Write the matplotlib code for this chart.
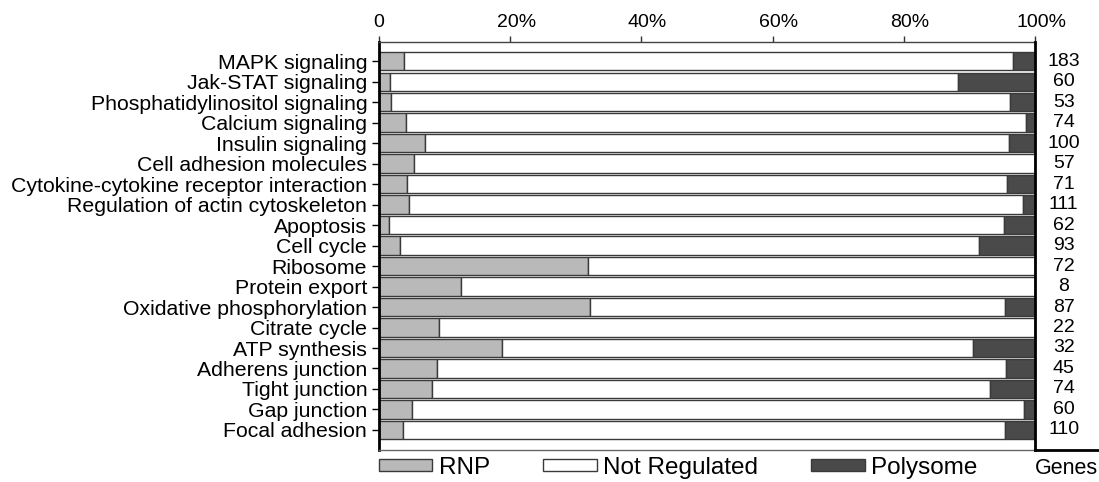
import matplotlib
matplotlib.use("Agg")
import matplotlib.pyplot as plt
import matplotlib.transforms as mtransforms
from matplotlib.patches import Patch
import numpy as np

plt.rcParams['font.family'] = ['Liberation Sans', 'DejaVu Sans']

# pathways, top to bottom
pathways = [
    "MAPK signaling", "Jak-STAT signaling", "Phosphatidylinositol signaling",
    "Calcium signaling", "Insulin signaling", "Cell adhesion molecules",
    "Cytokine-cytokine receptor interaction", "Regulation of actin cytoskeleton",
    "Apoptosis", "Cell cycle", "Ribosome", "Protein export",
    "Oxidative phosphorylation", "Citrate cycle", "ATP synthesis",
    "Adherens junction", "Tight junction", "Gap junction", "Focal adhesion",
]
genes = [183, 60, 53, 74, 100, 57, 71, 111, 62, 93, 72, 8, 87, 22, 32, 45, 74, 60, 110]

# percent of genes per class
rnp = [3.8, 1.7, 1.9, 4.1, 7.0, 5.3, 4.2, 4.5, 1.6, 3.2, 31.9, 12.5,
       32.2, 9.1, 18.8, 8.9, 8.1, 5.0, 3.6]
polysome = [3.3, 11.7, 3.8, 1.4, 4.0, 0.0, 4.2, 1.8, 4.8, 8.6, 0.0, 0.0,
            4.6, 0.0, 9.4, 4.4, 6.8, 1.7, 4.5]
not_regulated = [100 - r - p for r, p in zip(rnp, polysome)]

xticks = [0, 20, 40, 60, 80, 100]
xticklabels = ["0", "20%", "40%", "60%", "80%", "100%"]

c_rnp = "#b9b9b9"
c_not = "#ffffff"
c_poly = "#4a4a4a"
edge = "#3a3a3a"

W, H = 1099, 482
fig = plt.figure(figsize=(W / 100, H / 100), dpi=100)

left, right, top, bottom = 379, 1035, 42, 450
ax = fig.add_axes([left / W, 1 - bottom / H, (right - left) / W, (bottom - top) / H])

y = np.arange(len(pathways))
h = 0.9
ax.barh(y, rnp, height=h, color=c_rnp, edgecolor=edge, linewidth=1)
ax.barh(y, not_regulated, left=rnp, height=h, color=c_not, edgecolor=edge, linewidth=1)
ax.barh(y, polysome, left=np.array(rnp) + np.array(not_regulated), height=h,
        color=c_poly, edgecolor=edge, linewidth=1)

ax.set_xlim(0, 100)
ax.set_ylim(18.98, -0.94)
ax.set_yticks(y)
ax.set_yticklabels(pathways, fontsize=15.3)
ax.tick_params(axis='y', length=5, width=1, pad=3.5)

ax.xaxis.tick_top()
ax.set_xticks(xticks)
ax.set_xticklabels(xticklabels, fontsize=14)
ax.tick_params(axis='x', length=4, width=1, pad=4, color="#333333")
# percent labels sit with the number over the tick
for lab, t in zip(ax.get_xticklabels(), xticks):
    if t > 0:
        off = mtransforms.ScaledTranslation(6 / 100, 0, fig.dpi_scale_trans)
        lab.set_transform(lab.get_transform() + off)

ax.spines['left'].set_linewidth(2)
ax.spines['left'].set_color('black')
ax.spines['top'].set_linewidth(1)
ax.spines['top'].set_color('#444444')
ax.spines['bottom'].set_linewidth(1)
ax.spines['bottom'].set_color('#666666')
ax.spines['right'].set_visible(False)

# gene count column
ax2 = fig.add_axes([right / W, 1 - bottom / H, (W - right) / W, (bottom - top) / H])
ax2.set_ylim(ax.get_ylim())
ax2.set_xlim(0, 1)
ax2.set_xticks([])
ax2.set_yticks([])
for s in ['top', 'right']:
    ax2.spines[s].set_visible(False)
for s in ['left', 'bottom']:
    ax2.spines[s].set_linewidth(2)
    ax2.spines[s].set_color('black')
for i, n in enumerate(genes):
    ax2.text(0.45, i, str(n), ha='center', va='center', fontsize=14)
ax2.text(0.49, -0.045, "Genes", transform=ax2.transAxes, ha='center', va='center',
         fontsize=15.5)

handles = [
    Patch(facecolor=c_rnp, edgecolor=edge, label="RNP"),
    Patch(facecolor=c_not, edgecolor=edge, label="Not Regulated"),
    Patch(facecolor=c_poly, edgecolor=edge, label="Polysome"),
]
fig.legend(handles=handles, loc='center left', bbox_to_anchor=(left / W, 1 - 468 / H),
           ncol=3, frameon=False, fontsize=17.5, borderpad=0, borderaxespad=0,
           handlelength=2.2, handleheight=0.38, handletextpad=0.25, columnspacing=2.2)

fig.savefig("out.png", dpi=100)
